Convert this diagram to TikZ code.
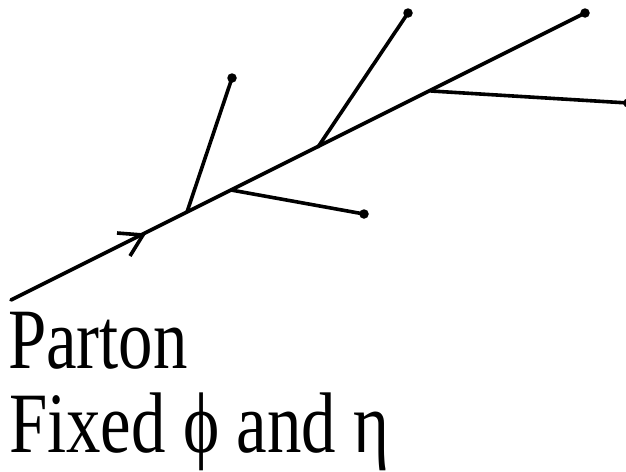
\documentclass[tikz,border=0pt]{standalone}
\usepackage{fontspec}
\setmainfont{Liberation Serif}
\begin{document}
\begin{tikzpicture}[x=1pt,y=-1pt,
  stroke/.style={line width=3.6pt,line cap=round},
  enddot/.style={circle,fill=black,inner sep=0pt,minimum size=9.5pt},
  lbl/.style={anchor=base west,inner sep=0pt,font=\fontsize{86}{92}\selectfont,xscale=0.8}]
\useasboundingbox (0,0) rectangle (626,471);
% main line
\coordinate (s) at (11,300);
\node[enddot] (e) at (585,13) {};
\coordinate (j1) at (187,212);
\coordinate (j2) at (231,190);
\coordinate (j3) at (318,147);
\coordinate (j4) at (431,91);
\draw[stroke] (s) -- (e.center);
% branches
\node[enddot] (b1) at (232,78) {};
\node[enddot] (b2) at (364,214) {};
\node[enddot] (b3) at (408,13) {};
\node[enddot] (b4) at (628,103) {};
\draw[stroke] (j1) -- (b1.center);
\draw[stroke] (j2) -- (b2.center);
\draw[stroke] (j3) -- (b3.center);
\draw[stroke] (j4) -- (b4.center);
% arrow
\coordinate (tip) at (143,235);
\coordinate (a1) at (117,233);
\coordinate (a2) at (130,256);
\draw[stroke,line cap=butt] (a1) -- (tip) -- (a2);
% labels
\node[lbl] (t1) at (8,368) {Parton};
\node[lbl] (t2) at (9,452) {Fixed ϕ and η};
\end{tikzpicture}
\end{document}
